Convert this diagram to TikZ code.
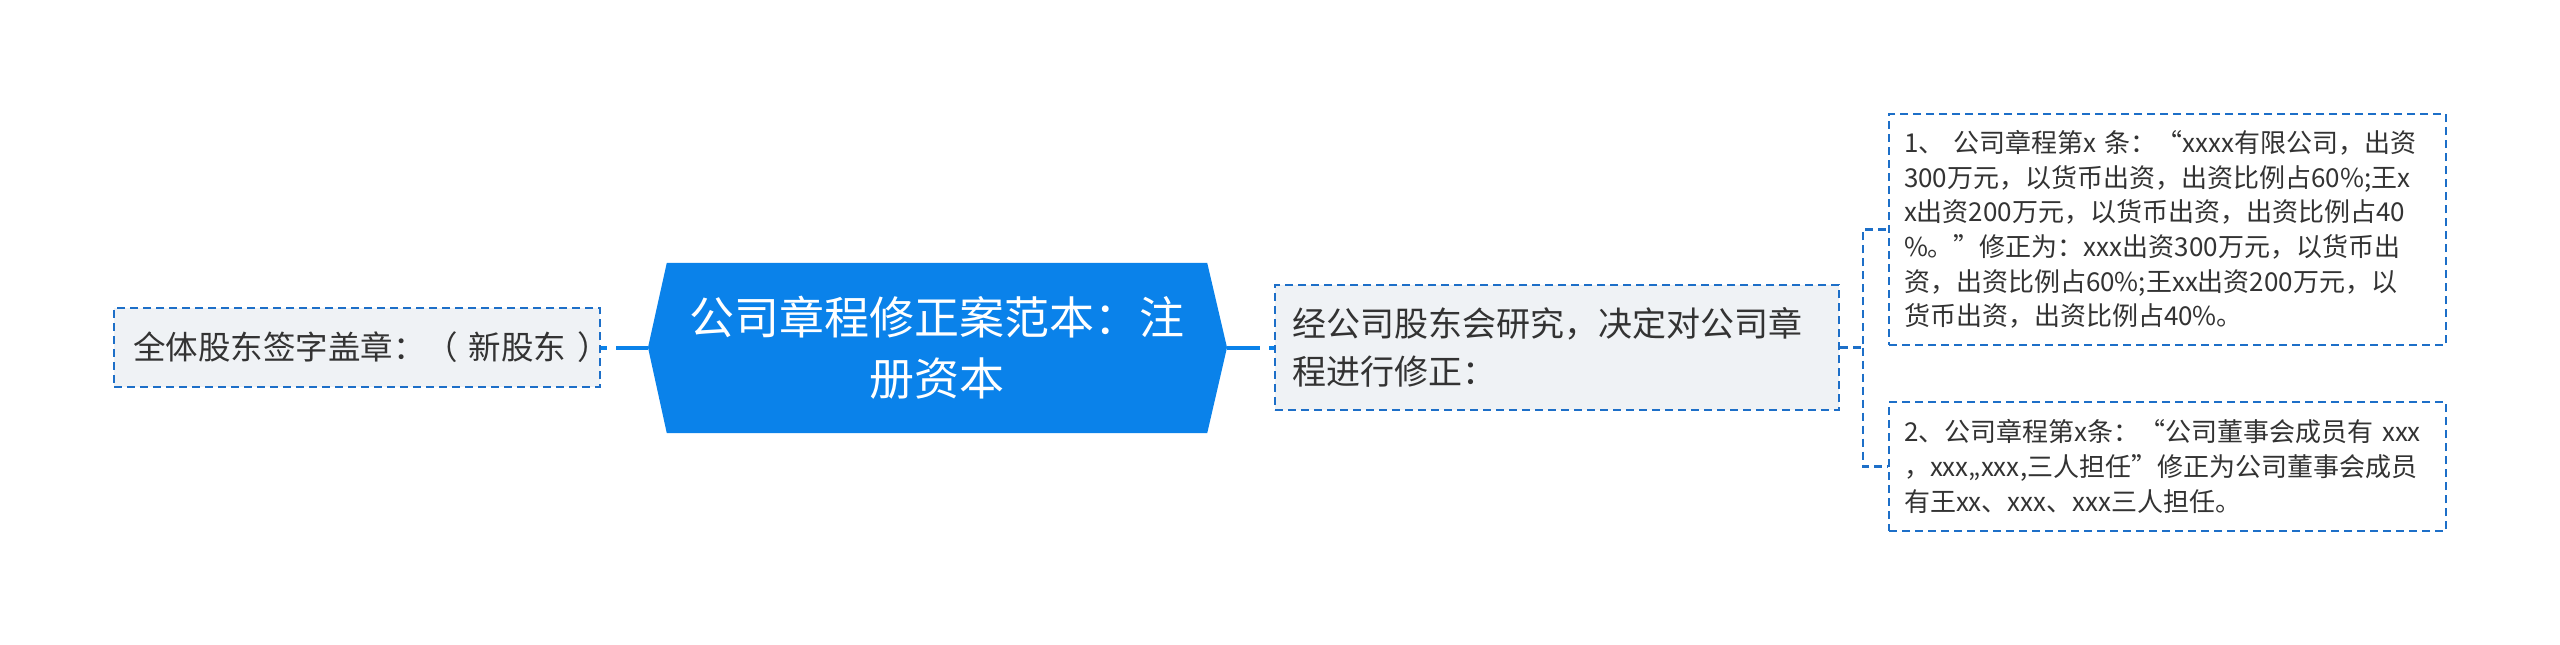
\documentclass[tikz,border=0pt]{standalone}
\usepackage{fontspec}
\setmainfont{Noto Sans CJK SC}
\usetikzlibrary{backgrounds,calc}
\definecolor{cblue}{HTML}{0A82EA}
\definecolor{lblue}{HTML}{1D6FC8}
\definecolor{lgray}{HTML}{EFF2F5}
\definecolor{tgray}{HTML}{333333}
\newcommand{\myline}[1]{\mbox{#1}}
\tikzset{
  dbox/.style={draw=lblue, line width=2.2pt, dash pattern=on 8pt off 5pt,
    inner ysep=0pt, align=left, text=tgray, anchor=center},
  graybox/.style={dbox, fill=lgray},
  whitebox/.style={dbox, fill=white},
  ctext/.style={text=white, align=center, inner sep=0pt, anchor=center,
    minimum width=540pt, minimum height=170pt, text width=530pt,
    font=\fontsize{45}{61}\selectfont},
  conn/.style={draw=cblue, line width=4pt},
  dconn/.style={draw=lblue, line width=2.2pt, dash pattern=on 8pt off 5pt},
}
\begin{document}
\begin{tikzpicture}[x=1pt,y=-1pt]
\useasboundingbox (0,0) rectangle (2560,645);
\coordinate (tipL) at (648,347.5);
\coordinate (tipR) at (1227,347.5);
\coordinate (fork) at (1863,347.5);

\node[ctext] (C) at (937,348) {\myline{公司章程修正案范本：注}\\\myline{册资本}};
\begin{scope}[on background layer]
  \fill[cblue] (C.north west) -- (C.north east) -- (tipR) -- (C.south east)
    -- (C.south west) -- (tipL) -- cycle;
\end{scope}

\node[graybox, minimum width=486pt, minimum height=79pt, inner xsep=19pt,
  text width=448pt, font=\fontsize{32.5}{44}\selectfont] (L) at (357,347.5)
  {\myline{全体股东签字盖章：（ 新股东 ）}};

\node[graybox, minimum width=564pt, minimum height=125pt, inner xsep=17pt,
  text width=530pt, font=\fontsize{34}{48}\selectfont] (M) at (1557,347.5)
  {\myline{经公司股东会研究，决定对公司章}\\\myline{程进行修正：}};

\node[whitebox, minimum width=557pt, minimum height=231pt, inner xsep=15pt,
  text width=527pt, font=\fontsize{26}{34.7}\selectfont] (B1) at (2167.5,229.5)
  {\myline{1、 公司章程第x 条：“xxxx有限公司，出资}\\
   \myline{300万元，以货币出资，出资比例占60\%;王x}\\
   \myline{x出资200万元，以货币出资，出资比例占40}\\
   \myline{\%。”修正为：xxx出资300万元，以货币出}\\
   \myline{资，出资比例占60\%;王xx出资200万元，以}\\
   \myline{货币出资，出资比例占40\%。}};

\node[whitebox, minimum width=557pt, minimum height=129pt, inner xsep=15pt,
  text width=527pt, font=\fontsize{26}{34.7}\selectfont] (B2) at (2167.5,466.5)
  {\myline{2、公司章程第x条：“公司董事会成员有 xxx}\\
   \myline{，xxx,,xxx,三人担任”修正为公司董事会成员}\\
   \myline{有王xx、xxx、xxx三人担任。}};

\draw[conn, dash pattern=on 6pt off 9pt on 60pt] (L.east) -- (tipL);
\draw[conn, dash pattern=on 33pt off 9pt on 20pt] (tipR) -- (M.west);
\draw[dconn] (M.east) -- (fork) |- (B1.west);
\draw[dconn] (fork) |- (B2.west);
\end{tikzpicture}
\end{document}
